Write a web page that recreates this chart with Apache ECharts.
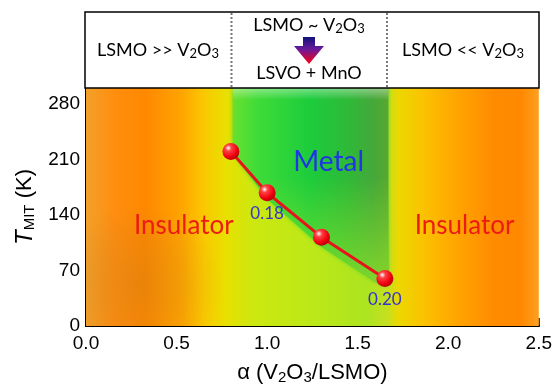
<!DOCTYPE html>
<html>
<head>
<meta charset="utf-8">
<script src="https://cdn.jsdelivr.net/npm/echarts@6/dist/echarts.min.js"></script>
<style>
  html, body { margin: 0; padding: 0; background: #fff; }
  #chart { width: 555px; height: 390px; }
</style>
</head>
<body>
<div id="chart"></div>
<script>
// measured points: alpha (V2O3/LSMO) vs T_MIT
const alpha = [0.8, 1.0, 1.3, 1.65]
const tempK = [220, 168, 112, 60]
const pointNotes = ['', '0.18', '', '0.20']

const xTicks = ['0.0', '0.5', '1.0', '1.5', '2.0', '2.5']
const yTicks = ['0', '70', '140', '210', '280']

// phase labels
const phaseNames = ['Insulator', 'Metal', 'Insulator']
const phaseAlpha = [0.54, 1.34, 2.09]
const phaseT = [126, 207, 126]

// metallic region outline (alpha, T)
const metalAlpha = [0.81, 1.67, 1.67, 1.6, 1.3, 1.0, 0.85, 0.81]
const metalT = [300, 300, 50, 55, 100, 160, 205, 225]

const xMax = 2.5
const yMax = 300

const headerText = ['LSMO >> V2O3', 'LSMO ~ V2O3', 'LSVO + MnO', 'LSMO << V2O3']

const G = echarts.graphic
const navy = '#1c2b4a'
const subRich = (size, color, family) => ({
  a: { fontSize: size, color, fontFamily: family },
  s: { fontSize: Math.round(size * 0.7), color, fontFamily: family, padding: [Math.round(size * 0.45), 0, 0, 0] }
})
const withSubs = (t) => t.replace(/([A-Za-z>~< +\/()α]+)|(\d)/g, (m, w, d) => (d ? `{s|${d}}` : `{a|${w}}`))

const chart = echarts.init(document.getElementById('chart'))

const renderBackground = (params, api) => {
  const p0 = api.coord([0, 0])
  const p1 = api.coord([xMax, yMax])
  const w = p1[0] - p0[0]
  const h = p0[1] - p1[1]
  const base = new G.LinearGradient(0, 0, 1, 0, [
    { offset: 0.0, color: '#f2a02a' },
    { offset: 0.06, color: '#ff8f10' },
    { offset: 0.13, color: '#ff8800' },
    { offset: 0.21, color: '#ffa400' },
    { offset: 0.26, color: '#fac800' },
    { offset: 0.31, color: '#e8e000' },
    { offset: 0.37, color: '#cce810' },
    { offset: 0.5, color: '#bce818' },
    { offset: 0.62, color: '#ace420' },
    { offset: 0.665, color: '#c4e020' },
    { offset: 0.69, color: '#ecd800' },
    { offset: 0.75, color: '#fcc000' },
    { offset: 0.82, color: '#ffa400' },
    { offset: 0.9, color: '#ff8c00' },
    { offset: 0.96, color: '#ff8800' },
    { offset: 1.0, color: '#ffa020' }
  ])
  const b0 = api.coord([0, 150])
  const b1 = api.coord([1.1, 0])
  const pts = metalAlpha.map((a, i) => api.coord([a, metalT[i]]))
  const t0 = api.coord([0.81, yMax])
  const t1 = api.coord([1.67, 285])
  return {
    type: 'group',
    children: [
      { type: 'rect', shape: { x: p0[0], y: p1[1], width: w, height: h }, style: { fill: base } },
      {
        type: 'rect',
        shape: { x: b0[0], y: b0[1], width: b1[0] - b0[0], height: b1[1] - b0[1] },
        style: {
          fill: new G.RadialGradient(0.26, 0.66, 0.7, [
            { offset: 0, color: 'rgba(175,115,35,0.26)' },
            { offset: 0.55, color: 'rgba(175,115,35,0.14)' },
            { offset: 1, color: 'rgba(175,115,35,0)' }
          ])
        }
      },
      {
        type: 'polygon',
        shape: { points: pts },
        style: {
          fill: new G.LinearGradient(0, 0, 1, 0, [
            { offset: 0, color: '#6ae030' },
            { offset: 0.15, color: '#40dc38' },
            { offset: 0.5, color: '#1ccc3c' },
            { offset: 0.75, color: '#30b838' },
            { offset: 0.9, color: '#44a83a' },
            { offset: 1, color: '#58a830' }
          ]),
          shadowBlur: 4,
          shadowColor: 'rgba(80,210,40,0.8)'
        }
      },
      {
        type: 'polygon',
        shape: { points: pts },
        style: {
          fill: new G.LinearGradient(0, 0, 0, 1, [
            { offset: 0, color: 'rgba(150,230,40,0)' },
            { offset: 0.45, color: 'rgba(150,230,40,0)' },
            { offset: 1, color: 'rgba(150,230,40,0.75)' }
          ])
        }
      },
      {
        type: 'rect',
        shape: { x: t0[0], y: t0[1], width: t1[0] - t0[0], height: t1[1] - t0[1] },
        style: {
          fill: new G.LinearGradient(0, 0, 0, 1, [
            { offset: 0, color: 'rgba(255,255,255,0.4)' },
            { offset: 1, color: 'rgba(255,255,255,0)' }
          ])
        }
      }
    ]
  }
}

const renderPhaseLabel = (params, api) => {
  const n = phaseNames[params.dataIndex]
  const p = api.coord([api.value(0), api.value(1)])
  const metal = n === 'Metal'
  return {
    type: 'text',
    x: p[0],
    y: p[1],
    style: {
      text: n,
      align: 'center',
      verticalAlign: 'middle',
      fontFamily: 'Lato',
      fontSize: metal ? 28 : 26,
      fill: metal ? '#1f36e6' : '#ec1c14',
      shadowColor: metal ? 'rgba(0,0,60,0.5)' : 'rgba(90,0,0,0.5)',
      shadowBlur: 2,
      shadowOffsetX: 1,
      shadowOffsetY: 1
    }
  }
}

const sphere = new G.RadialGradient(0.35, 0.3, 0.75, [
  { offset: 0, color: '#ffffff' },
  { offset: 0.25, color: '#ff4040' },
  { offset: 0.7, color: '#f00010' },
  { offset: 1, color: '#b00000' }
])

const axisFont = { fontSize: 19, color: '#000', fontFamily: 'Liberation Sans' }

const option = {
  animation: false,
  grid: { left: 86, right: 16, top: 88, bottom: 62 },
  xAxis: [
    {
      type: 'value',
      min: 0,
      max: xMax,
      interval: 0.5,
      axisLine: { lineStyle: { color: '#000', width: 2 } },
      axisTick: { inside: true, length: 8, lineStyle: { color: '#000', width: 1.5 } },
      minorTick: { show: true, splitNumber: 2, length: 4, lineStyle: { color: '#000', width: 1.5 } },
      splitLine: { show: false },
      axisLabel: { ...axisFont, margin: 8, formatter: (v) => xTicks[Math.round(v / 0.5)] },
      name: withSubs('α (V2O3/LSMO)'),
      nameLocation: 'middle',
      nameGap: 34,
      nameTextStyle: { rich: subRich(22, '#000', 'Liberation Sans') }
    },
    {
      type: 'value', position: 'top', min: 0, max: xMax,
      axisLine: { lineStyle: { color: '#000', width: 2 } },
      axisTick: { show: false }, axisLabel: { show: false }, splitLine: { show: false }
    }
  ],
  yAxis: [
    {
      type: 'value',
      min: 0,
      max: yMax,
      interval: 70,
      axisLine: { show: true, lineStyle: { color: '#000', width: 2 } },
      axisTick: { show: true, inside: true, length: 8, lineStyle: { color: '#000', width: 1.5 } },
      minorTick: { show: true, splitNumber: 2, length: 4, lineStyle: { color: '#000', width: 1.5 } },
      splitLine: { show: false },
      axisLabel: { ...axisFont, margin: 6, showMaxLabel: false, formatter: (v) => yTicks[Math.round(v / 70)] || '' },
      name: '{t|T}{s|MIT}{a| (K)}',
      nameLocation: 'middle',
      nameGap: 48,
      nameTextStyle: {
        rich: {
          t: { fontSize: 24, fontStyle: 'italic', color: '#000', fontFamily: 'Liberation Sans' },
          a: { fontSize: 22, color: '#000', fontFamily: 'Liberation Sans' },
          s: { fontSize: 15, color: '#000', fontFamily: 'Liberation Sans', padding: [10, 0, 0, 0] }
        }
      }
    },
    {
      type: 'value', position: 'right', min: 0, max: yMax,
      axisLine: { show: true, lineStyle: { color: '#000', width: 2 } },
      axisTick: { show: false }, axisLabel: { show: false }, splitLine: { show: false }
    }
  ],
  series: [
    {
      name: 'phase background',
      type: 'custom',
      clip: true,
      silent: true,
      z: 1,
      data: [[0, 0]],
      renderItem: renderBackground
    },
    {
      name: 'phases',
      type: 'custom',
      silent: true,
      z: 3,
      data: phaseNames.map((n, i) => [phaseAlpha[i], phaseT[i]]),
      renderItem: renderPhaseLabel
    },
    {
      name: 'T_MIT',
      type: 'line',
      z: 5,
      symbol: 'circle',
      symbolSize: 17,
      itemStyle: { color: sphere },
      lineStyle: { color: '#e8141c', width: 3 },
      data: alpha.map((a, i) => ({
        value: [a, tempK[i]],
        label: {
          show: pointNotes[i] !== '',
          position: 'bottom',
          distance: 4,
          formatter: pointNotes[i],
          fontFamily: 'Lato',
          fontSize: 17,
          color: '#3535c8'
        }
      }))
    }
  ],
  graphic: [
    {
      type: 'rect', z: 100,
      shape: { x: 85, y: 12, width: 454, height: 76 },
      style: { fill: '#fff', stroke: '#000', lineWidth: 1.5 }
    },
    {
      type: 'line', z: 101,
      shape: { x1: 231.5, y1: 13, x2: 231.5, y2: 87 },
      style: { stroke: '#777', lineWidth: 2, lineDash: [2, 2] }
    },
    {
      type: 'line', z: 101,
      shape: { x1: 387, y1: 13, x2: 387, y2: 87 },
      style: { stroke: '#777', lineWidth: 2, lineDash: [2, 2] }
    },
    {
      type: 'polygon', z: 101,
      shape: { points: [[303, 37], [315, 37], [315, 46], [324, 46], [309, 64], [294, 46], [303, 46]] },
      style: {
        fill: new G.LinearGradient(0, 0, 0, 1, [
          { offset: 0, color: '#10127e' },
          { offset: 0.45, color: '#6a1a9a' },
          { offset: 1, color: '#ff0010' }
        ])
      }
    },
    ...[[158, 50], [309, 25], [309, 73], [463, 50]].map(([x, y], i) => ({
      type: 'text', z: 102,
      x, y,
      style: {
        text: withSubs(headerText[i]),
        rich: subRich(18, navy, 'Lato'),
        align: 'center',
        verticalAlign: 'middle'
      }
    }))
  ]
}

chart.setOption(option)
</script>
</body>
</html>
